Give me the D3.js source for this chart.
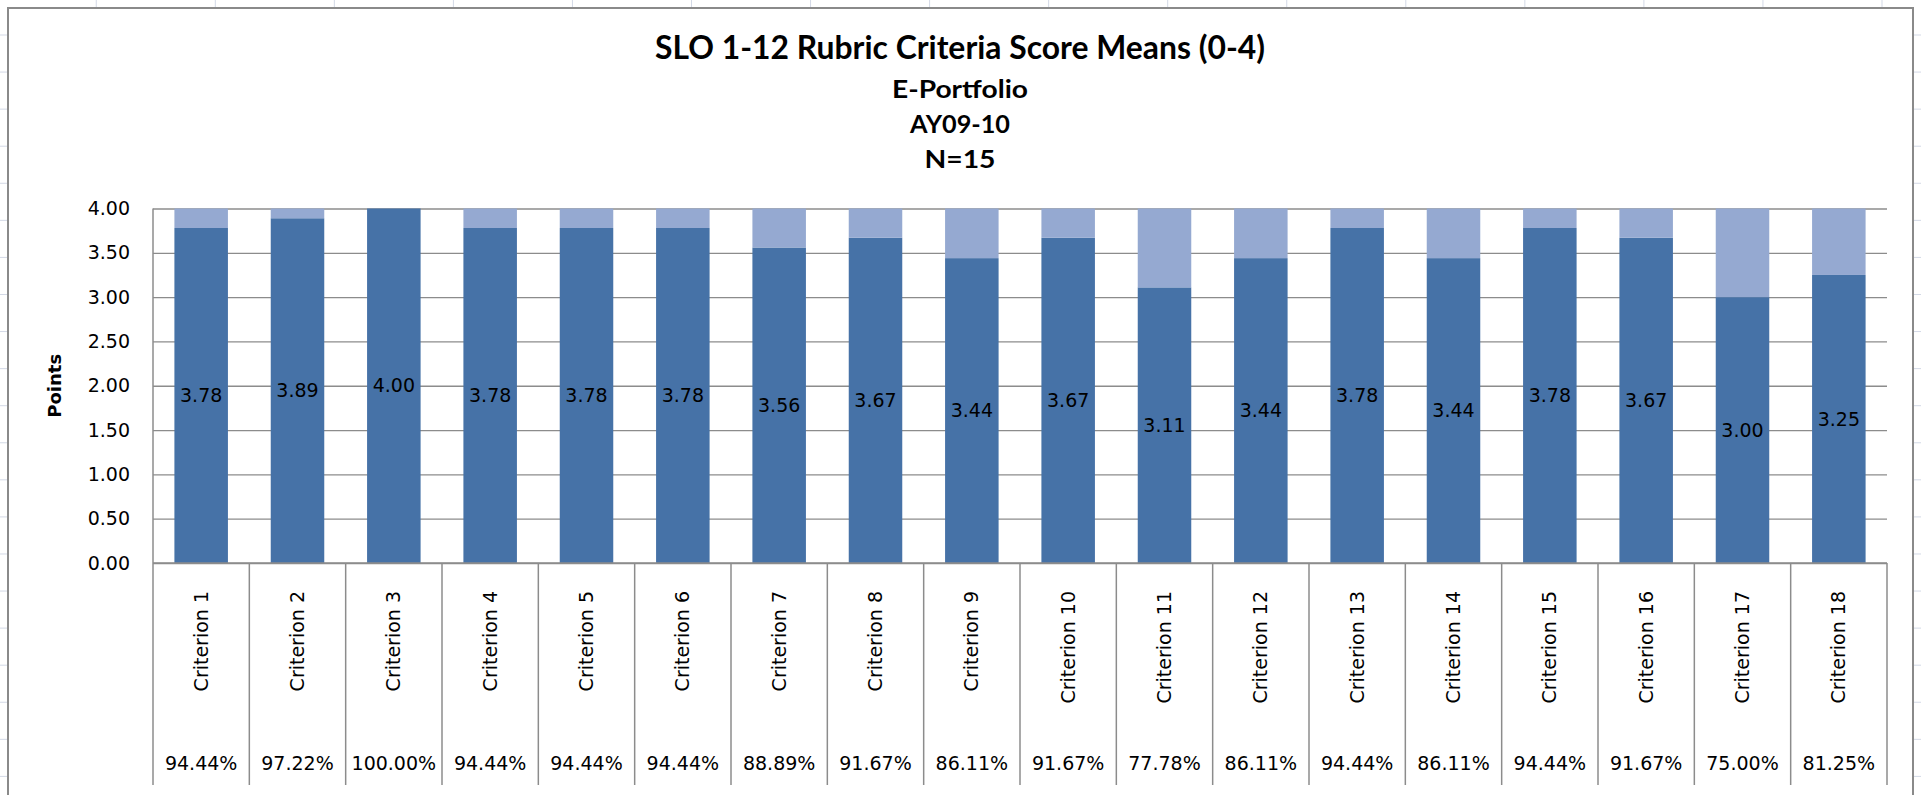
<!DOCTYPE html>
<html>
<head>
<meta charset="utf-8">
<script src="https://cdn.jsdelivr.net/npm/d3@7"></script>
<style>
  body { margin: 0; background: #fff; }
  svg { display: block; }
  .lbl { font-family: "DejaVu Sans", Verdana, sans-serif; font-size: 19px; fill: #000; }
  .ttl { font-family: Lato, "Open Sans", sans-serif; font-weight: 700; fill: #000; }
</style>
</head>
<body>
<svg id="chart"></svg>
<script>
// data
var categories = ["Criterion 1","Criterion 2","Criterion 3","Criterion 4","Criterion 5","Criterion 6",
  "Criterion 7","Criterion 8","Criterion 9","Criterion 10","Criterion 11","Criterion 12",
  "Criterion 13","Criterion 14","Criterion 15","Criterion 16","Criterion 17","Criterion 18"]
var means = [3.78,3.89,4.00,3.78,3.78,3.78,3.56,3.67,3.44,3.67,3.11,3.44,3.78,3.44,3.78,3.67,3.00,3.25]
var percents = [94.44,97.22,100.00,94.44,94.44,94.44,88.89,91.67,86.11,91.67,77.78,86.11,94.44,86.11,94.44,91.67,75.00,81.25]
var yTicks = [0,0.5,1,1.5,2,2.5,3,3.5,4]
var maxScore = 4
var titleLines = ["SLO 1-12 Rubric Criteria Score Means (0-4)","E-Portfolio","AY09-10","N=15"]

var W = 1921, H = 795
// (window.top is read-only, so no "top" here)
var plotL = 153, plotR = 1887, plotT = 208.5, plotB = 563, tableB = 785
var dark = "#4672a7", light = "#95a9d1", gridCol = "#8c8c8c"

var svg = d3.select("#chart").attr("width", W).attr("height", H)

// spreadsheet cells peeking round the chart frame
var sheet = svg.append("g").attr("stroke", "#d3d9e6").attr("stroke-width", 1)
for (var cx = 1882; cx > 0; cx -= 119.05) {
  sheet.append("line").attr("x1", cx).attr("x2", cx).attr("y1", 0).attr("y2", H)
}
for (var ry = 35; ry < H; ry += 37.07) {
  sheet.append("line").attr("x1", 0).attr("x2", W).attr("y1", ry).attr("y2", ry)
}
svg.append("rect").attr("x", 8).attr("y", 8).attr("width", 1905).attr("height", H + 20)
  .attr("fill", "#fff").attr("stroke", "#8a8a8a").attr("stroke-width", 2)

// titles
var titleY = [59, 98, 133, 168], titleSize = [33, 24, 24, 24], titleLen = [610, 136, 100, 71]
svg.selectAll("text.ttl").data(titleLines).enter().append("text")
  .attr("class", "ttl")
  .attr("x", 960)
  .attr("y", function(d, i){ return titleY[i] })
  .attr("text-anchor", "middle")
  .style("font-size", function(d, i){ return titleSize[i] + "px" })
  .attr("textLength", function(d, i){ return titleLen[i] })
  .attr("lengthAdjust", "spacingAndGlyphs")
  .text(function(d){ return d })

// scales
var xCell = d3.scaleBand().domain(categories).range([plotL, plotR]).padding(0)
var xBar = d3.scaleBand().domain(categories).range([plotL, plotR])
  .paddingInner(0.8 / 1.8).paddingOuter(0.4 / 1.8)   // excel gap width 80%
var y = d3.scaleLinear().domain([0, maxScore]).range([plotB, plotT])

// gridlines
var grid = svg.append("g").attr("transform", "translate(" + plotL + ",0)")
  .call(d3.axisLeft(y).tickValues(yTicks).tickSize(-(plotR - plotL)).tickFormat(""))
grid.select(".domain").remove()
grid.selectAll("line").attr("stroke", gridCol).attr("stroke-width", 1.3)

// y tick labels
var yAxis = svg.append("g").attr("transform", "translate(" + plotL + ",0)")
  .call(d3.axisLeft(y).tickValues(yTicks).tickSize(0).tickPadding(23).tickFormat(d3.format(".2f")))
yAxis.select(".domain").remove()
yAxis.attr("font-family", null).attr("font-size", null)
yAxis.selectAll("text").attr("class", "lbl")

svg.append("text")
  .attr("transform", "translate(55," + ((plotT + plotB) / 2) + ") rotate(-90)")
  .attr("text-anchor", "middle").attr("dy", "0.35em")
  .style("font-family", "'DejaVu Sans', Verdana, sans-serif")
  .style("font-weight", "bold").style("font-size", "18px")
  .text("Points")

// stacked bars
var rows = categories.map(function(c, i){ return {cat: c, mean: means[i], rest: maxScore - means[i]} })
var series = d3.stack().keys(["mean", "rest"])(rows)
svg.append("g").selectAll("g").data(series).enter().append("g")
  .attr("fill", function(d){ return d.key == "mean" ? dark : light })
  .selectAll("rect").data(function(d){ return d }).enter().append("rect")
  .attr("x", function(d){ return xBar(d.data.cat) })
  .attr("width", xBar.bandwidth())
  .attr("y", function(d){ return y(d[1]) })
  .attr("height", function(d){ return y(d[0]) - y(d[1]) })

// value labels in the middle of the dark part
svg.append("g").selectAll("text").data(rows).enter().append("text")
  .attr("class", "lbl")
  .attr("x", function(d){ return xBar(d.cat) + xBar.bandwidth() / 2 })
  .attr("y", function(d){ return y(d.mean / 2) })
  .attr("dy", "0.35em").attr("text-anchor", "middle")
  .text(function(d){ return d3.format(".2f")(d.mean) })

// axis lines and data table
svg.append("line").attr("x1", plotL).attr("x2", plotR).attr("y1", plotB).attr("y2", plotB)
  .attr("stroke", gridCol).attr("stroke-width", 1.5)
svg.append("line").attr("x1", plotL).attr("x2", plotL).attr("y1", plotT).attr("y2", tableB)
  .attr("stroke", gridCol).attr("stroke-width", 1.5)
svg.append("g").selectAll("line").data(categories).enter().append("line")
  .attr("x1", function(d){ return xCell(d) + xCell.bandwidth() })
  .attr("x2", function(d){ return xCell(d) + xCell.bandwidth() })
  .attr("y1", plotB).attr("y2", tableB)
  .attr("stroke", gridCol).attr("stroke-width", 1.5)

svg.append("g").selectAll("text").data(categories).enter().append("text")
  .attr("class", "lbl")
  .attr("transform", function(d){ return "translate(" + (xCell(d) + xCell.bandwidth() / 2) + ",591) rotate(-90)" })
  .attr("text-anchor", "end").attr("dy", "0.35em")
  .text(function(d){ return d })

svg.append("g").selectAll("text").data(percents).enter().append("text")
  .attr("class", "lbl")
  .attr("x", function(d, i){ return xCell(categories[i]) + xCell.bandwidth() / 2 })
  .attr("y", 770).attr("text-anchor", "middle")
  .text(function(d){ return d3.format(".2f")(d) + "%" })
</script>
</body>
</html>
